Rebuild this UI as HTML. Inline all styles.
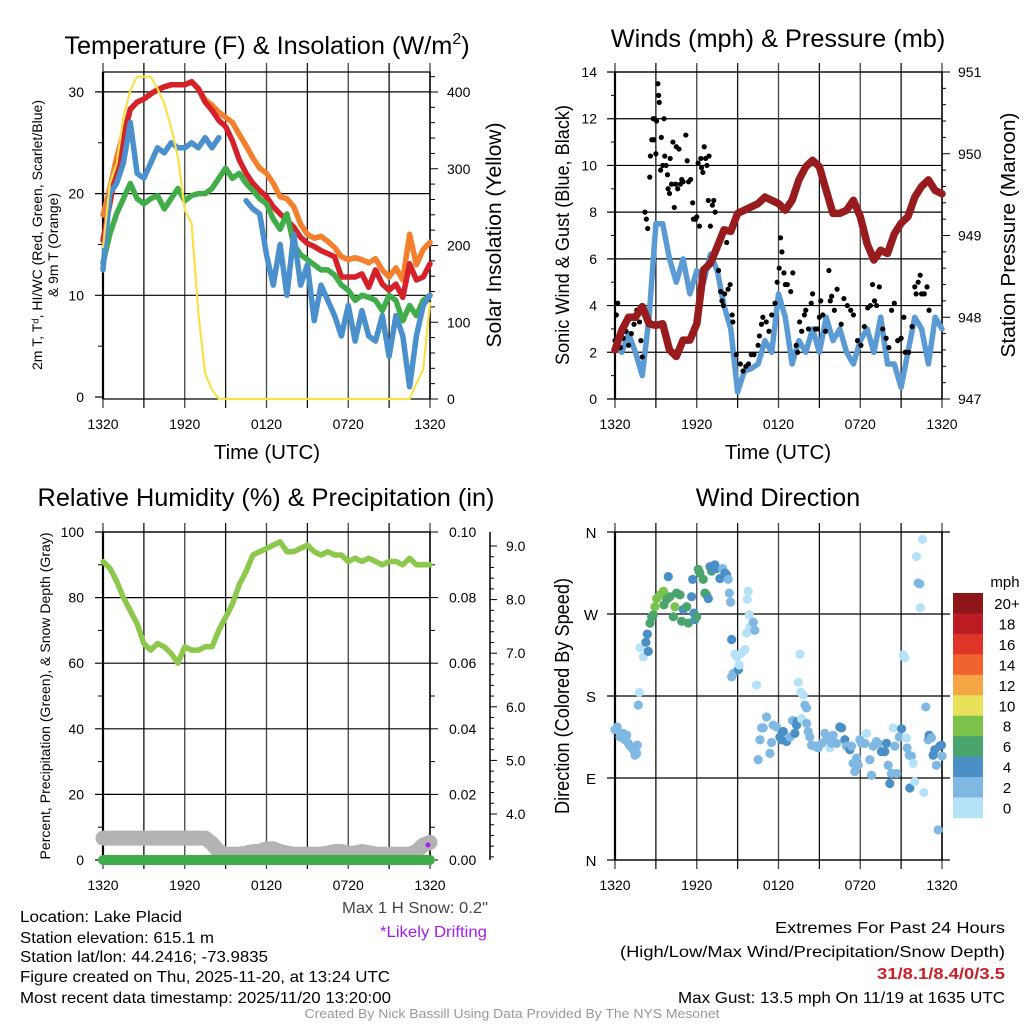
<!DOCTYPE html>
<html><head><meta charset="utf-8"><style>
html,body{margin:0;padding:0;background:#fff;}
svg{display:block;font-family:"Liberation Sans",sans-serif;}
</style></head><body>
<svg id="chart" width="1024" height="1024" viewBox="0 0 1024 1024" xmlns="http://www.w3.org/2000/svg">
<rect x="0" y="0" width="1024" height="1024" fill="#fff"/>
</svg>
<script>
// ---------- data ----------
const xTickLabels = ['1320','1920','0120','0720','1320'];
const tempRed = [15.4,19,22.5,25.5,28.3,29,29.3,29.8,30.2,30.5,30.7,30.7,30.7,31,30.3,29,28.2,27.2,26.6,25.2,23.3,22,21,20.3,19.7,18.7,18,17.4,16.7,15.7,15.1,14.8,14.4,14.1,13.8,11.8,11.8,11.8,12.1,10.8,12.5,11.1,10.5,11.1,9.8,13.1,11.5,11.8,13.1];
const temp9m = [17.9,20.5,23.5,26,28.3,29,29.3,29.8,30.2,30.5,30.7,30.7,30.7,31,30.3,29.2,28.7,28,27.5,27,25.8,24.7,23.5,22.5,22,21,19.7,19.5,18.7,17,16,15.6,15.8,15.3,14.7,13.8,13.5,13.7,13.5,13.2,13.6,12.5,11.8,12.7,11.5,16,13,14.5,15.2];
const dewGreen = [13.2,16,18,19.5,21,19.5,19,19.5,19.8,18.5,19.5,20.5,19.3,19.8,20,20,20.5,21.5,22.5,21.5,22,21,20.3,19.5,19,17.5,16.5,18,15,14,13.5,13,12.5,12.5,12,11,10.5,9.5,10,9.8,9.5,8.5,10,9.5,7.5,9,8,9.5,10];
const hiwcBlue = [12.5,20,21,23,27,22,21.5,23,24.5,24,25,24.5,24.5,25,24.5,25.5,24.5,25.5,null,null,null,19.3,18.5,18,14,11,15,10,16,11,13,7.5,11,9.5,8,6,9,5.5,8.5,6,5.5,8,4,8,6,1,6,9,10];
const insolation = [198,280,307,367,402,420,426,424,404,385,354,315,246,229,111,33,12,0,0,0,0,0,0,0,0,0,0,0,0,0,0,0,0,0,0,0,0,0,0,0,0,0,0,0,0,0,20,38,125];
const windSpeed = [2.2,2.0,2.8,2.0,1.0,3.5,7.5,7.5,6,5,6,4.5,5.5,5,6.2,5.5,4,3,0.3,1.2,1.3,1.5,2.5,2,4.5,3.5,1.5,2.5,2,3,2,3.5,2.5,3,2,1.5,2.5,3,2,3.5,1.5,1.5,0.5,2,3.5,3,1.5,3.5,3];
const pressure = [947.6,947.84,948.0,948.0,948.13,947.92,947.9,947.92,947.6,947.52,947.72,947.72,947.92,948.58,948.66,948.86,949.07,949.05,949.27,949.31,949.35,949.39,949.47,949.43,949.39,949.31,949.43,949.68,949.84,949.92,949.84,949.55,949.27,949.27,949.31,949.43,949.23,948.9,948.7,948.82,948.78,949.02,949.15,949.23,949.47,949.6,949.68,949.55,949.51];
const gustTimes = [0,0.1,0.2,0.4,0.6,0.8,1.0,1.2,1.4,1.6,1.8,1.9,2.0,2.2,2.3,2.4,2.55,2.6,2.7,2.8,2.85,2.9,3.0,3.05,3.15,3.2,3.25,3.35,3.4,3.5,3.6,3.65,3.75,3.85,3.9,4.0,4.05,4.15,4.25,4.35,4.45,4.5,4.6,4.7,4.8,4.9,5.0,5.2,5.3,5.4,5.55,5.7,5.75,5.9,6.0,6.1,6.2,6.3,6.35,6.45,6.55,6.65,6.75,6.85,6.9,7.0,7.15,7.25,7.35,7.55,7.6,7.75,7.85,7.95,8.05,8.2,8.3,8.45,8.6,8.65,8.9,9.2,9.4,9.6,9.8,10.0,10.2,10.5,10.6,10.75,10.85,11.1,11.3,11.5,11.75,11.9,12.05,12.15,12.25,12.4,12.5,12.65,12.9,13.05,13.3,13.4,13.55,13.7,13.9,14.0,14.2,14.4,14.5,14.7,14.85,15.0,15.1,15.25,15.45,15.7,15.8,15.9,16.1,16.3,16.6,16.8,17.05,17.3,17.5,17.8,18.05,18.3,18.55,18.75,18.9,19.05,19.2,19.4,19.65,19.9,20.1,20.3,20.5,20.75,21.0,21.2,21.3,21.55,21.8,22.0,22.1,22.25,22.4,22.5,22.7,22.9,23.05];
const gustValues = [2.5,3.6,4.1,2.2,2.6,2.9,2.3,2.8,3.2,3.8,3.3,2.5,1.8,8.0,7.7,7.3,9.5,10.4,11.1,12.0,11.1,12.0,10.5,11.9,13.5,13.0,12.7,9.8,11.2,10.0,12.0,10.4,10.0,9.6,9.0,8.8,10.3,9.2,11.0,8.2,9.2,10.8,9.0,10.7,9.2,9.4,9.3,11.3,10.2,9.3,9.4,8.4,7.7,7.7,7.8,10.1,7.4,10.3,9.9,9.7,10.8,10.3,10.0,8.5,10.4,7.4,8.3,8.5,8.0,6.7,5.5,4.6,4.2,4.0,4.5,6.7,4.7,4.9,3.6,3.3,1.9,1.5,1.2,1.4,1.5,1.9,1.9,2.3,2.7,3.2,3.5,3.3,2.9,3.6,4.1,5.0,5.6,6.9,6.3,5.4,4.9,4.9,4.6,5.4,2.3,2.0,3.3,2.9,3.6,3.8,3.0,4.1,4.5,3.0,3.0,3.5,4.2,3.6,2.9,5.5,4.2,4.4,3.8,4.7,3.2,4.3,4.0,3.8,3.6,2.5,2.3,3.1,3.9,4.0,4.9,4.2,4.0,4.8,3.0,2.6,2.2,3.8,4.1,2.5,2.6,3.5,2.0,2.0,3.1,4.8,4.5,5.0,5.3,4.5,4.5,4.8,3.8];
const rhValues = [91,89,85,80,76,72,66,64,66,65,63,60,65,64,64,65,65,70,74,78,84,88,93,94,95,96,97,94,94,95,96,94,93,94,93,93,91,92,91,92,91,90,91,91,90,92,90,90,90];
const precipValues = [0,0,0,0,0,0,0,0,0,0,0,0,0,0,0,0,0,0,0,0,0,0,0,0,0,0,0,0,0,0,0,0,0,0,0,0,0,0,0,0,0,0,0,0,0,0,0,0,0];
const snowDepth = [3.55,3.55,3.55,3.55,3.55,3.55,3.55,3.55,3.55,3.55,3.55,3.55,3.55,3.55,3.55,3.55,3.45,3.3,3.25,3.25,3.25,3.27,3.3,3.3,3.35,3.35,3.3,3.27,3.25,3.25,3.25,3.25,3.25,3.27,3.3,3.3,3.27,3.27,3.3,3.28,3.25,3.25,3.25,3.25,3.25,3.25,3.3,3.42,3.47];
const dirTimes = [0,0.17,0.37,0.61,0.86,0.73,0.98,1.1,1.34,1.59,1.47,1.64,1.78,1.71,1.83,2.08,2.27,2.37,2.44,2.57,2.69,2.81,2.93,3.06,3.3,3.55,3.59,3.79,3.91,4.03,4.28,4.4,4.52,4.77,4.89,5.01,5.26,5.38,5.62,5.7,5.79,5.87,5.99,6.11,6.23,6.48,6.6,6.72,6.85,6.97,7.09,7.21,7.33,7.46,7.7,7.9,8.07,8.19,8.31,8.39,8.48,8.56,8.68,8.56,8.8,8.92,9.05,9.12,9.29,9.54,9.66,9.78,9.71,9.85,9.9,10.15,10.27,10.39,10.51,10.64,10.76,10.88,11.12,11.37,11.49,11.61,11.86,12.1,12.22,12.35,12.59,12.84,13.03,13.2,13.33,13.37,13.57,13.45,13.64,13.81,13.94,14.06,13.69,14.06,14.18,14.3,14.43,14.67,14.91,15.16,15.4,15.53,15.77,15.89,16.01,16.26,16.5,16.63,16.87,16.99,17.24,17.36,17.48,17.6,17.73,17.85,17.97,18.09,18.34,18.46,18.7,18.83,18.95,19.19,19.32,19.56,19.8,19.93,20.05,20.17,20.29,20.42,20.54,20.66,20.86,21.03,21.15,21.27,21.39,21.44,21.59,21.76,21.64,21.88,22.0,22.13,22.25,22.37,22.42,22.57,22.67,22.81,22.98,23.06,23.23,23.35,23.47,23.59,23.72,23.84,23.96,24.0];
const dirDegrees = [143,146,135,139,137,132,128,125,121,117,115,126,184,170,233,223,239,248,229,260,267,269,278,287,291,295,280,286,311,289,267,278,293,291,262,275,278,260,289,308,271,264,267,319,315,308,293,291,287,322,317,319,324,320,309,320,315,313,308,293,283,242,205,201,226,223,209,214,227,231,249,295,286,269,256,261,252,192,110,132,145,145,157,117,129,148,146,135,132,141,130,135,153,139,148,152,226,195,184,181,170,167,155,150,141,135,126,125,123,128,139,132,123,128,137,128,146,145,132,125,121,125,106,97,112,104,132,128,128,139,110,93,125,130,128,119,119,128,104,84,95,145,125,95,135,144,225,222,134,123,115,114,79,106,86,333,304,303,277,352,74,168,132,137,134,115,121,104,33,125,126,114];
const dirSpeeds = [2,2,2,2,2,2,2,2,2,2,2,2,0,3,1,1,4,4,4,6,6,7,8,8,8,8,7,6,4,6,6,9,6,6,6,4,6,6,4,4,4,4,6,6,6,6,6,6,4,4,6,4,4,4,4,3,4,4,3,3,3,4,3,3,1,1,4,1,1,1,0,1,0,0,0,3,3,1,3,3,3,3,3,3,3,3,3,4,4,4,4,3,3,4,5,4,1,1,1,1,3,3,1,3,3,3,3,3,3,3,3,3,1,3,3,3,4,4,4,3,4,3,3,3,3,3,3,3,3,1,3,3,3,3,3,4,4,4,3,4,3,1,3,3,3,4,1,1,1,3,3,3,4,1,1,1,3,3,1,1,1,3,3,4,3,4,4,3,3,4,4,3];
const colorbarLabels = ['20+','18','16','14','12','10','8','6','4','2','0'];
const colorbarColors = ['#8e1518','#bb1c24','#dd3629','#f0622e','#f6a544','#e7e15a','#7cc24a','#49a56c','#4a8fc5','#7fb9e3','#b6e2f8'];

// ---------- helpers ----------
const NS='http://www.w3.org/2000/svg';
const svg=document.getElementById('chart');
function mk(tag, attrs, name){
  const el=document.createElementNS(NS,tag);
  for(const k in attrs) el.setAttribute(k,attrs[k]);
  
  
  svg.appendChild(el);
  return el;
}
function ln(x1,y1,x2,y2,st,w,name){return mk('line',{x1,y1,x2,y2,stroke:st,'stroke-width':w},name);}
function txt(x,y,s,size,anchor,name,extra){
  const t=mk('text',Object.assign({x:x,y:y,'font-size':size,'text-anchor':anchor||'middle',fill:'#000'},extra||{}),name);
  t.textContent=s; return t;
}
function timesArr(n){const a=[];for(let i=0;i<n;i++)a.push(i*0.5);return a;}
function pathFrom(xs, vals, xf, yf){
  let d='',pen=false;
  vals.forEach((v,i)=>{
    if(v===null){pen=false;return;}
    d+=(pen?'L':'M')+xf(xs[i]).toFixed(1)+','+yf(v).toFixed(1);
    pen=true;
  });
  return d;
}
function series(xs, vals, xf, yf, col, w, name){
  return mk('path',{d:pathFrom(xs,vals,xf,yf),fill:'none',stroke:col,'stroke-width':w,'stroke-linejoin':'round','stroke-linecap':'round'},name);
}
function frame(x0,x1,yt,yb,prefix){
  for(let i=0;i<=8;i++){
    const x=x0+i*(x1-x0)/8;
    ln(x,yt-9,x,yb+9,(i%2?'#111':'#444'),1.3,prefix+'-vgrid');
  }
  ln(x0,yt,x1,yt,'#000',1.2,prefix+'-top-border');
  ln(x0,yb,x1,yb,'#000',1.2,prefix+'-bottom-border');
  ln(x0,yt,x0,yb,'#000',2.2,prefix+'-left-axis');
  ln(x1,yt,x1,yb,'#000',1.5,prefix+'-right-axis');
  xTickLabels.forEach((s,i)=>{
    txt(x0+i*(x1-x0)/4,yb+30,s,14,'middle',prefix+'-x-tick-label');
  });
}
const T=timesArr(49);
const LA={'lengthAdjust':'spacingAndGlyphs'};

// ================= Panel 1: Temperature =================
const x1s=h=>103+h*327/24;
const yT=v=>397-v*10.17;
const yI=v=>399-v*0.7675;
frame(103,430,72,399,'temp');
[10,20,30].forEach(v=>{ln(95,yT(v),430,yT(v),'#000',1.2,'temp-hgrid');});
ln(95,yT(0),103,yT(0),'#000',1.2,'temp-zero-tick');
[0,10,20,30].forEach(v=>txt(84,yT(v)+5,String(v),14,'end','temp-y-tick-label'));
[5,15,25].forEach(v=>ln(98,yT(v),103,yT(v),'#000',1,'temp-y-minor-tick'));
for(let v=0;v<=420;v+=20){const maj=v%100===0;ln(430,yI(v),maj?438:435,yI(v),'#000',1,'insol-tick');if(maj)txt(447,yI(v)+5,String(v),14,'start','insol-tick-label');}
series(T,temp9m,x1s,yT,'#f47f2c',5.5,'series-9m-temp');
series(T,tempRed,x1s,yT,'#d4212a',5.5,'series-2m-temp');
series(T,dewGreen,x1s,yT,'#41ad49',5.5,'series-dewpoint');
series(T,hiwcBlue,x1s,yT,'#4a90cc',5.5,'series-heat-index-wind-chill');
series(T,insolation.map(v=>Math.min(v,420)),x1s,yI,'#fbe04c',2.2,'series-insolation');
{const t=mk('text',{x:267,y:54,'font-size':25.3,'text-anchor':'middle'},'temp-title');
 t.innerHTML='Temperature (F) &amp; Insolation (W/m<tspan font-size="16" dy="-10">2</tspan><tspan dy="10">)</tspan>';}
txt(267,459,'Time (UTC)',20.5,'middle','temp-x-axis-title');
txt(0,0,'2m T, T\u1d48, HI/WC (Red, Green, Scarlet/Blue)',14,'middle','temp-y-axis-title',Object.assign({transform:'translate(42,235) rotate(-90)',textLength:270},LA));
txt(0,0,'& 9m T (Orange)',14,'middle','temp-y-axis-title-line2',Object.assign({transform:'translate(58,245) rotate(-90)',textLength:104},LA));
txt(0,0,'Solar Insolation (Yellow)',21,'middle','insol-y-axis-title',Object.assign({transform:'translate(501,235) rotate(-90)',textLength:225},LA));

// ================= Panel 2: Winds =================
const x2s=h=>615+h*327/24;
const yW=v=>399-v*23.357;
const yP=v=>399-(v-947)*81.75;
frame(615,942,72,399,'wind');
for(let v=0;v<=14;v++){ if(v%2===0){ln(607,yW(v),942,yW(v),'#000',1.2,'wind-hgrid');txt(597,yW(v)+5,String(v),14,'end','wind-y-tick-label');} else ln(611,yW(v),615,yW(v),'#000',1,'wind-y-minor-tick');}
for(let i=0;i<=20;i++){const v=947+i*0.2;const maj=i%5===0;ln(942,yP(v),maj?950:946,yP(v),'#000',1,'pressure-tick');if(maj)txt(958,yP(v)+5,String(Math.round(v)),14,'start','pressure-tick-label');}
series(T,windSpeed,x2s,yW,'#5b9bd5',5.5,'series-sonic-wind');
gustTimes.forEach((h,i)=>{
  mk('circle',{cx:x2s(h),cy:yW(gustValues[i]),r:2.6,fill:'#000'},'gust-point');
});
series(T,pressure,x2s,yP,'#981b1e',7.5,'series-pressure');
txt(778,47,'Winds (mph) & Pressure (mb)',25.3,'middle','wind-title');
txt(778,459,'Time (UTC)',20.5,'middle','wind-x-axis-title');
txt(0,0,'Sonic Wind & Gust (Blue, Black)',19,'middle','wind-y-axis-title',Object.assign({transform:'translate(569,235) rotate(-90)',textLength:260},LA));
txt(0,0,'Station Pressure (Maroon)',20,'middle','pressure-y-axis-title',Object.assign({transform:'translate(1015,235) rotate(-90)',textLength:245},LA));

// ================= Panel 3: RH =================
const x3s=h=>103+h*327/24;
const yRH=v=>860-v*3.28;
const yPr=v=>860-v*3280;
const ySn=v=>814-(v-4)*53.6;
frame(103,430,532,860,'rh');
for(let v=0;v<=100;v+=10){ if(v%20===0){ln(95,yRH(v),430,yRH(v),'#000',1.2,'rh-hgrid');txt(84,yRH(v)+5,String(v),14,'end','rh-y-tick-label');} else ln(98,yRH(v),103,yRH(v),'#000',1,'rh-y-minor-tick');}
for(let i=0;i<=10;i++){const v=i*0.01;const maj=i%2===0;ln(430,yPr(v),maj?438:435,yPr(v),'#000',1,'precip-tick');if(maj)txt(449,yPr(v)+5,v.toFixed(2),14,'start','precip-tick-label');}
ln(490,532,490,860,'#000',1.5,'snow-axis');
for(let v=3.2;v<=9.11;v+=0.2){const maj=Math.abs(v-Math.round(v))<0.01;ln(490,ySn(v),maj?497:494,ySn(v),'#000',1,'snow-tick');if(maj&&v>=3.9)txt(506,ySn(v)+5,Math.round(v).toFixed(1),14,'start','snow-tick-label');}
series(T,snowDepth,x3s,ySn,'#b3b3b3',15,'series-snow-depth');
series(T,rhValues,x3s,yRH,'#8cc84b',5.5,'series-relative-humidity');
series(T,precipValues,x3s,yPr,'#41ad49',10,'series-precipitation');
mk('circle',{cx:428,cy:845,r:2.5,fill:'#a020f0'},'drifting-marker');
txt(266,506,'Relative Humidity (%) & Precipitation (in)',25.3,'middle','rh-title');
txt(0,0,'Percent, Precipitation (Green), & Snow Depth (Gray)',14,'middle','rh-y-axis-title',Object.assign({transform:'translate(50,696) rotate(-90)',textLength:327},LA));

// ================= Panel 4: Wind direction =================
const x4s=h=>615+h*327/24;
const yD=d=>860-d*328/360;
frame(615,942,532,860,'dir');
const dirTickVals=[360,270,180,90,0];
const dirTickLabels=['N','W','S','E','N'];
dirTickVals.forEach((d,i)=>{ln(607,yD(d),950,yD(d),'#000',1.2,'dir-hgrid');txt(591,yD(d)+6,dirTickLabels[i],15,'middle','dir-y-tick-label');});
function speedColor(s){const idx=Math.min(10,Math.floor(s/2));return colorbarColors[10-idx];}
dirTimes.forEach((h,i)=>{
  mk('circle',{cx:x4s(h),cy:yD(dirDegrees[i]),r:4.6,fill:speedColor(dirSpeeds[i])},'direction-point');
});
colorbarColors.forEach((c,i)=>{
  mk('rect',{x:953,y:593+i*20.45,width:30,height:20.8,fill:c},'colorbar-bin');
  txt(1007,593+i*20.45+16,colorbarLabels[i],15,'middle','colorbar-label');
});
txt(1005,587,'mph',15,'middle','colorbar-title');
txt(778,506,'Wind Direction',25.3,'middle','dir-title');
txt(0,0,'Direction (Colored By Speed)',20,'middle','dir-y-axis-title',Object.assign({transform:'translate(569,696) rotate(-90)',textLength:236},LA));

// ================= Footer text =================
txt(20,922,'Location: Lake Placid',16,'start','location-text',Object.assign({textLength:162},LA));
txt(20,943,'Station elevation: 615.1 m',16,'start','elevation-text',Object.assign({textLength:194},LA));
txt(20,962,'Station lat/lon: 44.2416; -73.9835',16,'start','latlon-text',Object.assign({textLength:248},LA));
txt(20,982,'Figure created on Thu, 2025-11-20, at 13:24 UTC',16,'start','created-text',Object.assign({textLength:370},LA));
txt(20,1003,'Most recent data timestamp: 2025/11/20 13:20:00',16,'start','timestamp-text',Object.assign({textLength:371},LA));
txt(488,913,'Max 1 H Snow: 0.2"',16,'end','max-snow-text',Object.assign({textLength:146,fill:'#444'},LA));
txt(487,937,'*Likely Drifting',16,'end','drifting-text',Object.assign({textLength:107,fill:'#a020f0'},LA));
txt(1005,933,'Extremes For Past 24 Hours',16,'end','extremes-title',Object.assign({textLength:230},LA));
txt(1005,957,'(High/Low/Max Wind/Precipitation/Snow Depth)',16,'end','extremes-subtitle',Object.assign({textLength:385},LA));
txt(1005,979,'31/8.1/8.4/0/3.5',16,'end','extremes-values',Object.assign({textLength:128,fill:'#c8202a','font-weight':'bold'},LA));
txt(1005,1003,'Max Gust: 13.5 mph On 11/19 at 1635 UTC',16,'end','max-gust-text',Object.assign({textLength:327},LA));
txt(512,1018,'Created By Nick Bassill Using Data Provided By The NYS Mesonet',12.5,'middle','credits-text',Object.assign({textLength:415,fill:'#999'},LA));
</script>
</body></html>
